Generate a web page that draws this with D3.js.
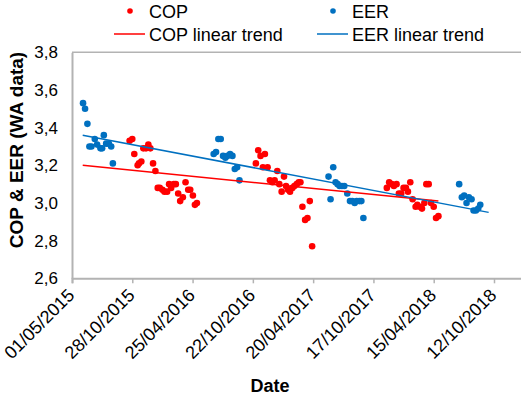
<!DOCTYPE html>
<html lang="en">
<head>
    <meta charset="UTF-8">
    <title>COP & EER</title>
    <style>
        body { margin: 0; background: #fff; }
        svg { display: block; font-family: "Liberation Sans", Arial, sans-serif; }
    </style>
</head>
<body>
<script src="https://cdn.jsdelivr.net/npm/d3@7/dist/d3.min.js"></script>
<script type="text/javascript">
    //Width and height
    var w = 521;
    var h = 402;

    // COP readings
    var copDates = [
        "2015-10-20", "2015-10-28", "2015-11-03", "2015-11-13", "2015-11-17", "2015-11-24",
        "2015-11-30", "2015-12-08", "2015-12-15", "2015-12-21", "2015-12-29", "2016-01-05",
        "2016-01-12", "2016-01-18", "2016-01-26", "2016-02-01", "2016-02-09", "2016-02-15",
        "2016-02-21", "2016-02-29", "2016-03-06", "2016-03-13", "2016-03-19", "2016-03-27",
        "2016-04-04", "2016-04-12", "2016-04-18", "2016-04-26", "2016-05-02", "2016-05-08",
        "2016-10-31", "2016-11-07", "2016-11-14", "2016-11-21", "2016-11-27", "2016-12-05",
        "2016-12-12", "2016-12-19", "2016-12-26", "2017-01-03", "2017-01-09", "2017-01-16",
        "2017-01-23", "2017-01-29", "2017-02-04", "2017-02-10", "2017-02-17", "2017-02-23",
        "2017-03-02", "2017-03-08", "2017-03-13", "2017-03-19", "2017-03-27", "2017-04-03",
        "2017-04-10", "2017-04-17",
        "2017-11-26", "2017-12-03", "2017-12-11", "2017-12-17", "2017-12-25", "2018-01-01",
        "2018-01-08", "2018-01-15", "2018-01-22", "2018-01-28", "2018-02-04", "2018-02-11",
        "2018-02-20", "2018-02-25", "2018-03-04", "2018-03-11", "2018-03-18", "2018-03-24",
        "2018-03-31", "2018-04-07", "2018-04-15", "2018-04-22", "2018-04-29"
    ];
    var copValues = [
        3.33, 3.34, 3.26, 3.20, 3.21, 3.22,
        3.29, 3.29, 3.31, 3.29, 3.21, 3.17,
        3.08, 3.08, 3.07, 3.06, 3.06, 3.10,
        3.08, 3.10, 3.10, 3.05, 3.01, 3.03,
        3.11, 3.07, 3.07, 3.04, 2.99, 3.00,
        3.21, 3.28, 3.25, 3.19, 3.26, 3.19,
        3.12, 3.11, 3.12, 3.17, 3.10, 3.06,
        3.14, 3.09, 3.07, 3.06, 3.08, 3.09,
        3.10, 3.11, 3.11, 2.98, 2.91, 2.92,
        3.01, 2.77,
        3.08, 3.11, 3.10, 3.09, 3.10, 3.05,
        3.05, 3.08, 3.08, 3.06, 3.11, 3.02,
        2.98, 2.99, 2.98, 2.97, 3.00, 3.10,
        3.10, 3.00, 2.98, 2.92, 2.93
    ];

    // EER readings
    var eerDates = [
        "2015-06-03", "2015-06-09", "2015-06-16", "2015-06-22", "2015-06-28", "2015-07-08",
        "2015-07-15", "2015-07-25", "2015-07-30", "2015-08-04", "2015-08-11", "2015-08-19",
        "2015-08-26", "2015-08-31",
        "2016-06-27", "2016-07-04", "2016-07-11", "2016-07-18", "2016-07-25", "2016-08-01",
        "2016-08-07", "2016-08-15", "2016-08-22", "2016-08-29", "2016-09-05", "2016-09-12",
        "2017-06-05", "2017-06-11", "2017-06-19", "2017-06-26", "2017-07-02", "2017-07-08",
        "2017-07-15", "2017-07-22", "2017-07-31", "2017-08-08", "2017-08-15", "2017-08-22",
        "2017-08-28", "2017-09-05", "2017-09-11", "2017-09-17",
        "2018-06-30", "2018-07-08", "2018-07-15", "2018-07-22", "2018-07-29", "2018-08-06",
        "2018-08-12", "2018-08-19", "2018-08-26", "2018-09-01"
    ];
    var eerValues = [
        3.53, 3.50, 3.42, 3.30, 3.30, 3.34,
        3.31, 3.29, 3.29, 3.36, 3.315, 3.315,
        3.30, 3.21,
        3.26, 3.27, 3.34, 3.34, 3.25, 3.24,
        3.25, 3.26, 3.25, 3.18, 3.19, 3.12,
        3.14, 3.02, 3.19, 3.11, 3.10, 3.09,
        3.09, 3.09, 3.05, 3.01, 3.01, 3.00,
        3.01, 3.01, 3.01, 2.92,
        3.10, 3.03, 3.04, 3.00, 3.03, 3.02,
        2.96, 2.96, 2.97, 2.99
    ];

    // linear trend end points
    var copTrendDates = ["2015-06-02", "2018-04-29"];
    var copTrendValues = [3.20, 3.01];
    var eerTrendDates = ["2015-06-02", "2018-09-26"];
    var eerTrendValues = [3.36, 2.95];

    // axes
    var xTickDates = ["2015-05-01", "2015-10-28", "2016-04-25", "2016-10-22",
        "2017-04-20", "2017-10-17", "2018-04-15", "2018-10-12"];
    var xDomain = ["2015-05-01", "2019-04-10"];
    var yTicks = [2.6, 2.8, 3.0, 3.2, 3.4, 3.6, 3.8];

    var parse = d3.utcParse("%Y-%m-%d");
    var fmtDate = d3.utcFormat("%d/%m/%Y");
    var fmtNum = d3.formatLocale({decimal: ",", thousands: ".", grouping: [3], currency: ["", ""]}).format(".1f");

    var plotLeft = 72, plotTop = 52.3, plotBottom = 278.3;

    var xScale = d3.scaleUtc()
        .domain(xDomain.map(parse))
        .range([plotLeft, plotLeft + 1440 * 0.33492]);
    var yScale = d3.scaleLinear()
        .domain([2.6, 3.8])
        .range([plotBottom, plotTop]);

    var svg = d3.select("body")
        .append("svg")
        .attr("width", w)
        .attr("height", h);

    var axisColor = "#b3b3b3";

    // top border of plot area
    svg.append("line")
        .attr("x1", plotLeft).attr("x2", w + 40)
        .attr("y1", plotTop).attr("y2", plotTop)
        .attr("stroke", axisColor).attr("stroke-width", 1.5);

    //X axis
    var xAxis = d3.axisBottom(xScale)
        .tickValues(xTickDates.map(parse))
        .tickSize(5)
        .tickFormat(fmtDate);
    var gx = svg.append("g")
        .attr("transform", "translate(0," + plotBottom + ")")
        .call(xAxis);
    gx.select(".domain").attr("stroke", axisColor).attr("stroke-width", 2);
    gx.selectAll(".tick line").attr("stroke", axisColor).attr("stroke-width", 1.5);
    gx.selectAll(".tick text")
        .attr("font-family", "Liberation Sans, Arial, sans-serif")
        .attr("font-size", "18px")
        .attr("fill", "#000")
        .attr("text-anchor", "end")
        .attr("dy", null)
        .attr("y", 0)
        .attr("transform", "translate(3,18) rotate(-45)");

    //Y axis
    var yAxis = d3.axisLeft(yScale)
        .tickValues(yTicks)
        .tickSize(0)
        .tickPadding(14)
        .tickFormat(fmtNum);
    var gy = svg.append("g")
        .attr("transform", "translate(" + plotLeft + ",0)")
        .call(yAxis);
    gy.select(".domain").attr("stroke", axisColor).attr("stroke-width", 2);
    gy.selectAll(".tick text")
        .attr("font-family", "Liberation Sans, Arial, sans-serif")
        .attr("font-size", "17px")
        .attr("fill", "#000");

    //Axis titles
    svg.append("text")
        .attr("transform", "translate(23,150) rotate(-90)")
        .attr("text-anchor", "middle")
        .attr("font-size", "19px")
        .attr("font-weight", "bold")
        .text("COP & EER (WA data)");
    svg.append("text")
        .attr("x", 270)
        .attr("y", 392)
        .attr("text-anchor", "middle")
        .attr("font-size", "18px")
        .attr("font-weight", "bold")
        .text("Date");

    //Points
    var plot = svg.append("g");
    plot.selectAll("circle.cop")
        .data(copDates)
        .enter()
        .append("circle")
        .attr("class", "cop")
        .attr("cx", function(d) { return xScale(parse(d)); })
        .attr("cy", function(d, i) { return yScale(copValues[i]); })
        .attr("r", 3.3)
        .attr("fill", "#ff0000");
    plot.selectAll("circle.eer")
        .data(eerDates)
        .enter()
        .append("circle")
        .attr("class", "eer")
        .attr("cx", function(d) { return xScale(parse(d)); })
        .attr("cy", function(d, i) { return yScale(eerValues[i]); })
        .attr("r", 3.3)
        .attr("fill", "#0070c0");

    //Trend lines
    var line = d3.line()
        .x(function(d) { return xScale(parse(d[0])); })
        .y(function(d) { return yScale(d[1]); });
    plot.append("path")
        .datum(d3.zip(copTrendDates, copTrendValues))
        .attr("d", line)
        .attr("fill", "none")
        .attr("stroke", "#ff0000")
        .attr("stroke-width", 1.5);
    plot.append("path")
        .datum(d3.zip(eerTrendDates, eerTrendValues))
        .attr("d", line)
        .attr("fill", "none")
        .attr("stroke", "#0070c0")
        .attr("stroke-width", 1.5);

    //Legend
    var legend = svg.append("g").attr("font-size", "18px");
    var items = [
        {name: "COP", color: "#ff0000", type: "dot", x: 130, y: 11},
        {name: "EER", color: "#0070c0", type: "dot", x: 333, y: 11},
        {name: "COP linear trend", color: "#ff0000", type: "line", x: 130, y: 34},
        {name: "EER linear trend", color: "#0070c0", type: "line", x: 333, y: 34}
    ];
    items.forEach(function(it) {
        if (it.type === "dot") {
            legend.append("circle")
                .attr("cx", it.x).attr("cy", it.y).attr("r", 2.8)
                .attr("fill", it.color);
        } else {
            legend.append("line")
                .attr("x1", it.x - 16).attr("x2", it.x + 15)
                .attr("y1", it.y).attr("y2", it.y)
                .attr("stroke", it.color).attr("stroke-width", 1.5);
        }
        legend.append("text")
            .attr("x", it.x + 19)
            .attr("y", it.y + 7)
            .text(it.name);
    });
</script>
</body>
</html>
